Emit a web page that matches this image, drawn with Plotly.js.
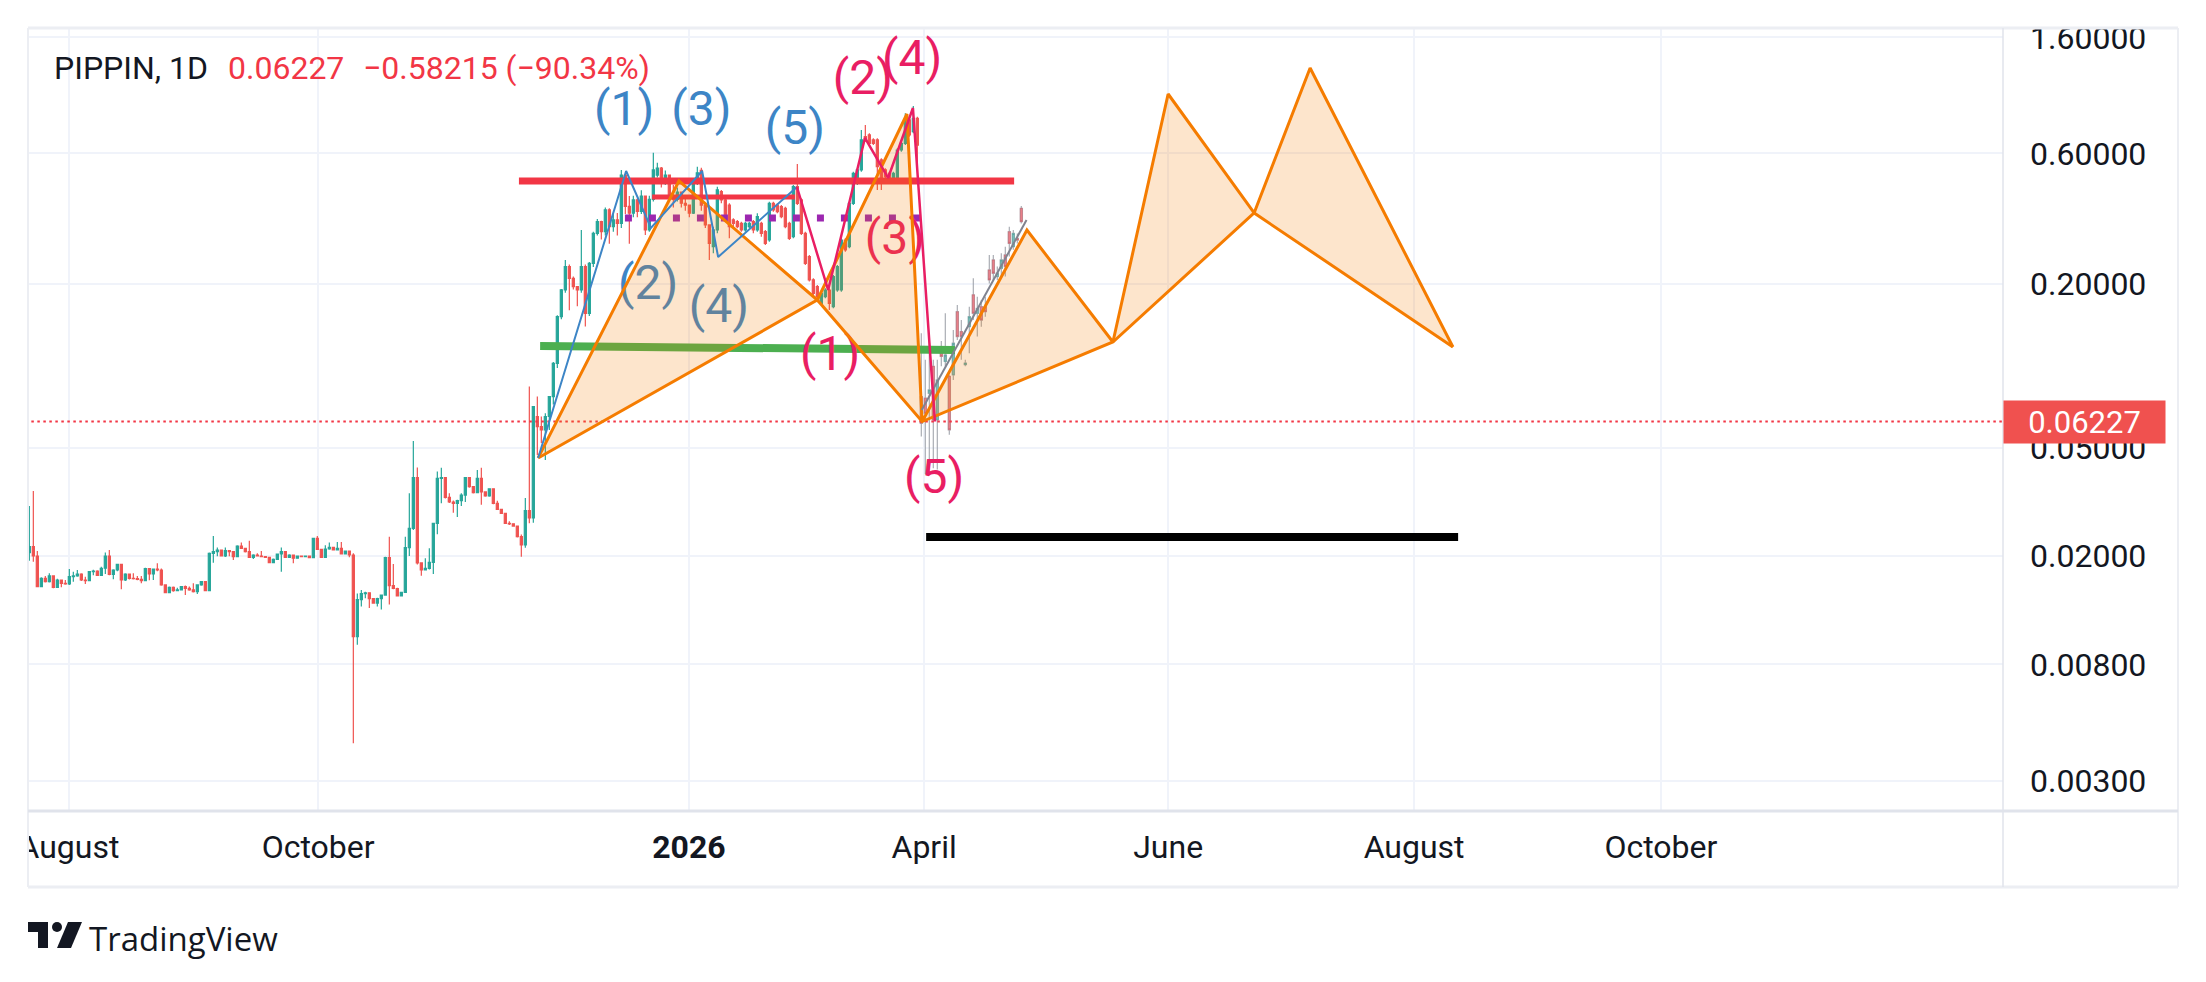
<!DOCTYPE html>
<html>
<head>
<meta charset="utf-8">
<script src="https://cdn.plot.ly/plotly-3.0.1.min.js"></script>
<style>
html,body{margin:0;padding:0;background:#ffffff;}
#chart{width:2206px;height:982px;}
</style>
</head>
<body>
<div id="chart"></div>
<script>
// ---------- DATA (daily candles, PIPPIN, 1D) ----------
const candleOpen = [
0.02058,0.02164,0.02000,0.01544,0.01656,0.01610,0.01690,0.01535,0.01633,0.01588,
0.01579,0.01680,0.01690,0.01718,0.01633,0.01624,0.01752,0.01762,0.01699,0.01803,
0.02000,0.01713,0.01777,0.01864,0.01633,0.01718,0.01656,0.01651,0.01642,0.01624,
0.01797,0.01718,0.01792,0.01777,0.01566,0.01467,0.01535,0.01492,0.01501,0.01544,
0.01522,0.01501,0.01480,0.01566,0.01610,0.01492,0.02046,0.02075,0.02104,0.02000,
0.02092,0.02075,0.01989,0.02176,0.02134,0.02075,0.01978,0.02017,0.02000,0.01989,
0.01978,0.01891,0.01945,0.02034,0.02075,0.01978,0.02017,0.01962,0.02000,0.01989,
0.02000,0.01972,0.02323,0.02116,0.01978,0.02122,0.02151,0.02104,0.02134,0.02034,
0.02086,0.02017,0.01012,0.01384,0.01456,0.01466,0.01395,0.01344,0.01395,0.01437,
0.01974,0.01556,0.01520,0.01427,0.01470,0.02146,0.02527,0.03881,0.01887,0.01777,
0.01801,0.01895,0.02636,0.03855,0.03877,0.03283,0.03157,0.03121,0.03193,0.03348,
0.03877,0.03593,0.03414,0.03855,0.03438,0.03321,0.03528,0.03121,0.02967,0.02869,
0.02636,0.02624,0.02576,0.02355,0.02195,0.02934,0.02760,0.06500,0.05970,0.05810,
0.06500,0.07690,0.10180,0.15120,0.18940,0.23070,0.20880,0.19480,0.18940,0.23070,
0.15520,0.23720,0.30570,0.33730,0.31000,0.37300,0.32340,0.34210,0.33260,0.49990,
0.38350,0.36260,0.40510,0.36770,0.41850,0.31450,0.40690,0.50000,0.53000,0.46630,
0.49990,0.41850,0.40690,0.43250,0.39410,0.38800,0.36260,0.46630,0.52000,0.38800,
0.32810,0.27310,0.31440,0.43460,0.40510,0.38830,0.34210,0.33720,0.33250,0.31440,
0.32330,0.33720,0.31440,0.33250,0.31000,0.28890,0.39390,0.38830,0.38280,0.37750,
0.33250,0.29710,0.45330,0.40510,0.30560,0.25100,0.20610,0.19470,0.16920,0.17900,
0.18930,0.16450,0.18930,0.18930,0.28890,0.27310,0.39390,0.46640,0.52210,0.69180,
0.70160,0.67260,0.67260,0.56810,0.52210,0.50750,0.47970,0.47970,0.61800,0.65400,
0.79640,0.72160,0.80760
];
const candleHigh = [
0.03051,0.03464,0.02086,0.01672,0.01690,0.01728,0.01700,0.01651,0.01640,0.01633,
0.01792,0.01752,0.01777,0.01728,0.01680,0.01762,0.01782,0.01772,0.01828,0.02058,
0.02104,0.01790,0.01870,0.01870,0.01730,0.01720,0.01728,0.01690,0.01690,0.01810,
0.01800,0.01800,0.01880,0.01800,0.01570,0.01545,0.01544,0.01530,0.01550,0.01560,
0.01544,0.01588,0.01575,0.01620,0.01615,0.02060,0.02366,0.02150,0.02110,0.02150,
0.02100,0.02080,0.02190,0.02244,0.02140,0.02276,0.02030,0.02046,0.02086,0.02000,
0.01985,0.01960,0.02040,0.02151,0.02080,0.02030,0.02020,0.02010,0.02005,0.02010,
0.02005,0.02330,0.02368,0.02120,0.02190,0.02244,0.02160,0.02251,0.02251,0.02095,
0.02090,0.02046,0.01456,0.01500,0.01480,0.01470,0.01400,0.01405,0.01445,0.01989,
0.02355,0.01871,0.01530,0.01480,0.02355,0.03397,0.05284,0.04224,0.01895,0.01963,
0.02134,0.02650,0.04088,0.04212,0.03900,0.03397,0.03200,0.03220,0.03397,0.03900,
0.03881,0.03600,0.04136,0.04212,0.03450,0.03540,0.03540,0.03193,0.02980,0.02883,
0.02680,0.02640,0.02590,0.02400,0.03267,0.08370,0.07100,0.07690,0.06500,0.06680,
0.07700,0.10300,0.15300,0.19100,0.24400,0.23500,0.21200,0.19600,0.31450,0.23500,
0.24000,0.31000,0.34500,0.34000,0.38000,0.37800,0.36000,0.36260,0.52230,0.50500,
0.41850,0.42000,0.41000,0.44000,0.42000,0.42000,0.60400,0.55500,0.53500,0.52000,
0.50000,0.46000,0.45000,0.43500,0.41000,0.39000,0.48000,0.53690,0.53200,0.39000,
0.33000,0.32330,0.45330,0.44080,0.41670,0.39390,0.34690,0.34210,0.33720,0.33720,
0.33720,0.34210,0.36190,0.33720,0.31440,0.39940,0.39940,0.39390,0.38830,0.38280,
0.33720,0.45970,0.54920,0.41080,0.31000,0.25450,0.20900,0.19750,0.18670,0.19210,
0.19210,0.21500,0.23380,0.29300,0.29300,0.39940,0.51470,0.52950,0.73170,0.76330,
0.71140,0.68220,0.68220,0.57610,0.52950,0.51470,0.51470,0.62680,0.66320,0.84240,
0.80760,0.89620,0.81920
];
const candleLow = [
0.01923,0.01907,0.01535,0.01535,0.01600,0.01600,0.01522,0.01530,0.01535,0.01570,
0.01566,0.01610,0.01680,0.01620,0.01579,0.01615,0.01700,0.01690,0.01690,0.01718,
0.01700,0.01642,0.01760,0.01510,0.01620,0.01640,0.01640,0.01630,0.01590,0.01615,
0.01630,0.01633,0.01760,0.01555,0.01459,0.01462,0.01480,0.01485,0.01495,0.01439,
0.01490,0.01470,0.01450,0.01555,0.01485,0.01485,0.01891,0.01995,0.01990,0.01985,
0.01995,0.01934,0.01985,0.02120,0.02060,0.01970,0.01950,0.01990,0.01980,0.01965,
0.01880,0.01880,0.01934,0.01752,0.01970,0.01970,0.01880,0.01955,0.01980,0.01985,
0.01965,0.01965,0.02110,0.01970,0.01970,0.02110,0.02095,0.02095,0.02025,0.02025,
0.01978,0.00411,0.00944,0.01306,0.01400,0.01289,0.01335,0.01306,0.01273,0.01430,
0.01328,0.01510,0.01420,0.01420,0.01465,0.02001,0.02492,0.01860,0.01694,0.01770,
0.01785,0.01719,0.02406,0.03121,0.03250,0.03130,0.02883,0.02780,0.03050,0.03157,
0.03560,0.03390,0.03400,0.03085,0.03300,0.03302,0.03100,0.02950,0.02850,0.02620,
0.02600,0.02560,0.02340,0.01989,0.02146,0.02636,0.02650,0.04700,0.05200,0.04500,
0.05800,0.07200,0.09800,0.14800,0.18500,0.15960,0.19000,0.16500,0.18500,0.13900,
0.15200,0.23000,0.30000,0.29000,0.30000,0.28000,0.31000,0.30000,0.32000,0.36000,
0.28000,0.35000,0.35000,0.36000,0.30150,0.31000,0.40000,0.49000,0.45000,0.46000,
0.40000,0.38000,0.40000,0.38000,0.37000,0.35000,0.36000,0.46000,0.37000,0.32000,
0.24410,0.25810,0.30560,0.39390,0.33720,0.29300,0.32330,0.31890,0.31000,0.31000,
0.31890,0.30560,0.31000,0.29710,0.27700,0.28490,0.36700,0.36190,0.34690,0.31890,
0.28890,0.29300,0.38830,0.30140,0.23380,0.20320,0.18160,0.17650,0.16690,0.17650,
0.16000,0.16220,0.18670,0.18670,0.26170,0.26930,0.38830,0.45970,0.51470,0.66320,
0.64490,0.64490,0.44080,0.44080,0.48640,0.47300,0.47300,0.47300,0.60930,0.64490,
0.69180,0.71140,0.53700
];
const candleClose = [
0.02164,0.02000,0.01544,0.01656,0.01610,0.01690,0.01535,0.01633,0.01588,0.01579,
0.01680,0.01690,0.01718,0.01633,0.01624,0.01752,0.01762,0.01699,0.01803,0.02000,
0.01713,0.01777,0.01864,0.01633,0.01718,0.01656,0.01651,0.01642,0.01624,0.01797,
0.01718,0.01792,0.01777,0.01566,0.01467,0.01535,0.01492,0.01501,0.01544,0.01522,
0.01501,0.01480,0.01566,0.01610,0.01492,0.02046,0.02075,0.02104,0.02000,0.02092,
0.02075,0.01989,0.02176,0.02134,0.02075,0.01978,0.02017,0.02000,0.01989,0.01978,
0.01891,0.01945,0.02034,0.02075,0.01978,0.02017,0.01962,0.02000,0.01989,0.02000,
0.01972,0.02323,0.02116,0.01978,0.02122,0.02151,0.02104,0.02134,0.02034,0.02086,
0.02017,0.01012,0.01384,0.01456,0.01466,0.01395,0.01344,0.01395,0.01437,0.01974,
0.01556,0.01520,0.01427,0.01470,0.02146,0.02527,0.03881,0.01887,0.01777,0.01801,
0.01895,0.02636,0.03855,0.03877,0.03283,0.03157,0.03121,0.03193,0.03348,0.03877,
0.03593,0.03414,0.03855,0.03438,0.03321,0.03528,0.03121,0.02967,0.02869,0.02636,
0.02624,0.02576,0.02355,0.02195,0.02934,0.02760,0.07070,0.05970,0.05810,0.06500,
0.07690,0.10180,0.15120,0.18940,0.23070,0.20880,0.19480,0.18940,0.23070,0.15520,
0.23720,0.30570,0.33730,0.31000,0.37300,0.32340,0.34210,0.33260,0.49990,0.38350,
0.36260,0.40510,0.36770,0.41850,0.31450,0.40690,0.52230,0.53000,0.46630,0.49990,
0.41850,0.40690,0.43250,0.39410,0.38800,0.36260,0.46630,0.50990,0.38800,0.32810,
0.28090,0.31440,0.44080,0.40510,0.34210,0.32330,0.33250,0.32330,0.31440,0.33250,
0.33250,0.31440,0.35180,0.30560,0.28090,0.39390,0.37220,0.36700,0.35180,0.32330,
0.29300,0.45330,0.39390,0.30560,0.23720,0.20610,0.18410,0.17900,0.18410,0.18930,
0.16920,0.21190,0.23050,0.28890,0.26550,0.39390,0.50750,0.52210,0.67260,0.67260,
0.65400,0.65400,0.53700,0.47970,0.49330,0.47970,0.50750,0.61800,0.65400,0.79640,
0.70160,0.80760,0.64440
];

// projected ("ghost feed") candles drawn after the last bar
const ghostOpen  = [0.0769,0.0759,0.0791,0.0993,0.0632,0.1157,0.1035,0.0913,0.0925,0.1576,0.1332,0.1007,0.1389,
                    0.1818,0.1555,0.1644,0.1644,0.2243,0.2441,0.2121,0.2275,0.2546,0.3098,0.2731,0.2928,0.3775];
const ghostHigh  = [0.1313,0.1050,0.1277,0.1050,0.1050,0.1230,0.1555,0.0925,0.1351,0.1668,0.1468,0.1050,0.1644,
                    0.2090,0.1790,0.1740,0.1790,0.2546,0.2546,0.2307,0.2583,0.2731,0.3234,0.3142,0.3053,0.3850];
const ghostLow   = [0.0549,0.0400,0.0410,0.0420,0.0415,0.0993,0.0993,0.0557,0.0885,0.1240,0.1050,0.0993,0.1110,
                    0.1468,0.1277,0.1389,0.1511,0.2000,0.2061,0.2061,0.2121,0.2121,0.2511,0.2660,0.2807,0.3320];
const ghostClose = [0.0614,0.0668,0.0814,0.0632,0.0885,0.1080,0.1093,0.0581,0.1207,0.1277,0.1277,0.1021,0.1511,
                    0.1555,0.1621,0.1468,0.1576,0.2061,0.2181,0.2181,0.2441,0.2307,0.2807,0.3053,0.2888,0.3372];

const lastClose = 0.06227;
const legendSymbol = 'PIPPIN, 1D';
const legendPrice = '0.06227';
const legendChange = '\u22120.58215 (\u221290.34%)';

// axis ticks (x in bar units)
const xTickBars   = [9.9, 72.2, 164.9, 223.7, 284.7, 346.2, 407.9];
const xTickLabels = ['August', 'October', '<b>2026</b>', 'April', 'June', 'August', 'October'];
const yTickValues = [0.003, 0.008, 0.02, 0.05, 0.2, 0.6, 1.6];
const yTickLabels = ['0.00300', '0.00800', '0.02000', '0.05000', '0.20000', '0.60000', '1.60000'];

// horizontal levels drawn on the chart
const resistanceBars = [122.4, 246.2];   const resistancePrice = 0.4756;
const innerResBars   = [155.7, 191.4];   const innerResPrice   = 0.415;
const midLevelBars   = [148.9, 222.7];   const midLevelPrice   = 0.3478;
const supportBars    = [127.7, 231.4];   const supportPrices   = [0.1179, 0.1141];
const targetBars     = [224.2, 357.2];   const targetPrice     = 0.0235;

// harmonic / zig-zag pattern (orange)
const patternBars   = [127.2, 162.4, 197.0, 219.4, 223.2, 249.4, 270.9, 284.7, 306.2, 320.2, 355.9];
const patternPrices = [0.0458, 0.4756, 0.174, 0.8377, 0.0623, 0.3142, 0.122, 0.9918, 0.3629, 1.2357, 0.117];

// Elliott waves
const blueWaveBars   = [127.2, 149.2, 155.4, 168.2, 172.2, 191.9];
const blueWavePrices = [0.0458, 0.5175, 0.3197, 0.5175, 0.2502, 0.452];
const redWaveBars    = [191.9, 199.7, 208.9, 214.7, 220.9, 226.4];
const redWavePrices  = [0.452, 0.1893, 0.684, 0.4878, 0.881, 0.0623];
const reboundBars    = [223.1, 249.3];
const reboundPrices  = [0.0687, 0.342];

const blueLabels = ['(1)', '(2)', '(3)', '(4)', '(5)'];
const blueLabelBars = [148.7, 154.7, 168.0, 172.4, 191.4];
const blueLabelPrices = [0.8446, 0.1942, 0.8446, 0.1599, 0.719];
const redLabels = ['(1)', '(2)', '(3)', '(4)', '(5)'];
const redLabelBars = [200.2, 208.4, 216.4, 220.7, 226.2];
const redLabelPrices = [0.1066, 1.0977, 0.284, 1.2998, 0.0377];

// ---------- BUILD ----------
const bars = candleClose.map((_, i) => i);
const ghostBars = ghostClose.map((_, i) => candleClose.length + i);
const ghostBodyHigh = ghostOpen.map((o, i) => Math.max(o, ghostClose[i]));
const ghostBodyLow  = ghostOpen.map((o, i) => Math.min(o, ghostClose[i]));

const UP = '#26a69a', DOWN = '#ef5350';
const ORANGE = '#f57c00';
const FONT = 'Roboto, "Noto Sans", sans-serif';

const traces = [];

traces.push({
  type: 'candlestick', x: bars, open: candleOpen, high: candleHigh, low: candleLow, close: candleClose,
  increasing: {line: {color: UP, width: 1.2}, fillcolor: UP},
  decreasing: {line: {color: DOWN, width: 1.2}, fillcolor: DOWN},
  whiskerwidth: 0, hoverinfo: 'skip', showlegend: false
});

function line(x, y, color, width, dash) {
  return {type: 'scatter', mode: 'lines', x: x, y: y, line: {color: color, width: width, dash: dash || 'solid'},
          hoverinfo: 'skip', showlegend: false};
}
function labels(x, y, text, color) {
  return {type: 'scatter', mode: 'text', x: x, y: y, text: text, textposition: 'middle center',
          textfont: {family: FONT, size: 48, color: color}, hoverinfo: 'skip', showlegend: false, cliponaxis: false};
}

// price line
traces.push(line([-1, 500], [lastClose, lastClose], '#f23645', 2, '2.5px,3.5px'));
// levels
traces.push(line(innerResBars, [innerResPrice, innerResPrice], '#f23645', 5));
traces.push(line(resistanceBars, [resistancePrice, resistancePrice], '#f23645', 7));
traces.push(line(midLevelBars, [midLevelPrice, midLevelPrice], '#9c27b0', 7, '7px,17px'));
traces.push(line(supportBars, supportPrices, '#4caf50', 8));
traces.push(line(targetBars, [targetPrice, targetPrice], '#000000', 8));

// wave labels sit under the pattern fill
traces.push(labels(blueLabelBars, blueLabelPrices, blueLabels, '#3d85c6'));
traces.push(labels(redLabelBars, redLabelPrices, redLabels, '#e91e63'));

// pattern fills
for (let i = 0; i + 2 < patternBars.length; i += 2) {
  traces.push({
    type: 'scatter', mode: 'lines', fill: 'toself', fillcolor: 'rgba(245,124,0,0.2)',
    x: [patternBars[i], patternBars[i + 1], patternBars[i + 2], patternBars[i]],
    y: [patternPrices[i], patternPrices[i + 1], patternPrices[i + 2], patternPrices[i]],
    line: {width: 0}, hoverinfo: 'skip', showlegend: false
  });
}

// ghost wicks (gray) + bodies (faded)
traces.push({
  type: 'candlestick', x: ghostBars, open: ghostOpen, high: ghostHigh, low: ghostLow, close: ghostClose,
  increasing: {line: {color: 'rgba(150,153,162,0.75)', width: 1.3}, fillcolor: 'rgba(38,166,154,0.5)'},
  decreasing: {line: {color: 'rgba(150,153,162,0.75)', width: 1.3}, fillcolor: 'rgba(242,54,69,0.48)'},
  whiskerwidth: 0, hoverinfo: 'skip', showlegend: false
});
traces.push({
  type: 'candlestick', x: ghostBars, open: ghostOpen, high: ghostBodyHigh, low: ghostBodyLow, close: ghostClose,
  increasing: {line: {color: 'rgba(38,166,154,0.35)', width: 0.8}, fillcolor: 'rgba(38,166,154,0.25)'},
  decreasing: {line: {color: 'rgba(242,54,69,0.35)', width: 0.8}, fillcolor: 'rgba(242,54,69,0.25)'},
  whiskerwidth: 0, hoverinfo: 'skip', showlegend: false
});

traces.push(line(patternBars, patternPrices, ORANGE, 3));
traces.push(line(patternBars.filter((_, i) => i % 2 === 0), patternPrices.filter((_, i) => i % 2 === 0), ORANGE, 3));

// wave lines
traces.push(line(blueWaveBars, blueWavePrices, '#3d85c6', 2));
traces.push(line(reboundBars, reboundPrices, '#80838f', 2));
traces.push(line(redWaveBars, redWavePrices, '#e91e63', 2.5));

// ---------- LAYOUT ----------
const PX = x => (x - 28) / 1975;
const PY = y => (811 - y) / 783;
const BORDER = '#eceef3';

const shapes = [
  {type: 'line', xref: 'paper', yref: 'paper', x0: 0, x1: PX(2178), y0: 1, y1: 1, line: {color: BORDER, width: 3}},
  {type: 'line', xref: 'paper', yref: 'paper', x0: 0, x1: 0, y0: PY(887), y1: 1, line: {color: BORDER, width: 2}},
  {type: 'line', xref: 'paper', yref: 'paper', x0: PX(2178), x1: PX(2178), y0: PY(887), y1: 1, line: {color: BORDER, width: 2}},
  {type: 'line', xref: 'paper', yref: 'paper', x0: 0, x1: PX(2178), y0: PY(887), y1: PY(887), line: {color: BORDER, width: 3}},
  {type: 'line', xref: 'paper', yref: 'paper', x0: 1, x1: 1, y0: PY(887), y1: 1, line: {color: '#e0e3eb', width: 1.5}},
  {type: 'line', xref: 'paper', yref: 'paper', x0: 0, x1: PX(2178), y0: 0, y1: 0, line: {color: '#e0e3eb', width: 3}},
  // clip the first month label at the pane edge
  {type: 'rect', xref: 'paper', yref: 'paper', layer: 'above', x0: PX(0), x1: PX(27), y0: PY(884), y1: PY(814),
   fillcolor: '#ffffff', line: {width: 0}},
  // TradingView logo
  {type: 'rect', xref: 'paper', yref: 'paper', layer: 'above', x0: PX(28), x1: PX(48), y0: PY(932), y1: PY(922),
   fillcolor: '#131722', line: {width: 0}},
  {type: 'rect', xref: 'paper', yref: 'paper', layer: 'above', x0: PX(38), x1: PX(48), y0: PY(948), y1: PY(922),
   fillcolor: '#131722', line: {width: 0}},
  {type: 'circle', xref: 'paper', yref: 'paper', layer: 'above', x0: PX(52), x1: PX(62), y0: PY(932), y1: PY(922),
   fillcolor: '#131722', line: {width: 0}},
  {type: 'path', xref: 'paper', yref: 'paper', layer: 'above',
   path: `M${PX(68)},${PY(922)} L${PX(82)},${PY(922)} L${PX(71)},${PY(948)} L${PX(57)},${PY(948)} Z`,
   fillcolor: '#131722', line: {width: 0}}
];

const annotations = [
  {xref: 'paper', yref: 'paper', x: PX(52), y: PY(68), xanchor: 'left', yanchor: 'middle', showarrow: false,
   text: legendSymbol, font: {family: FONT, size: 32, color: '#131722'}},
  {xref: 'paper', yref: 'paper', x: PX(226), y: PY(68), xanchor: 'left', yanchor: 'middle', showarrow: false,
   text: legendPrice, font: {family: FONT, size: 32, color: '#f23645'}},
  {xref: 'paper', yref: 'paper', x: PX(361), y: PY(68), xanchor: 'left', yanchor: 'middle', showarrow: false,
   text: legendChange, font: {family: FONT, size: 32, color: '#f23645'}},
  {xref: 'paper', yref: 'y', x: 1, y: Math.log10(lastClose), xanchor: 'left', yanchor: 'middle', showarrow: false,
   text: legendPrice, font: {family: FONT, size: 31, color: '#ffffff'}, bgcolor: '#f0514f',
   width: 157, height: 38, borderpad: 2, align: 'center'},
  {xref: 'paper', yref: 'paper', x: PX(87), y: PY(939), xanchor: 'left', yanchor: 'middle', showarrow: false,
   text: 'TradingView', font: {family: '"Open Sans", sans-serif', size: 33, color: '#131722', weight: 500}}
];

const layout = {
  width: 2206, height: 982,
  margin: {l: 28, r: 203, t: 28, b: 171, pad: 0},
  paper_bgcolor: '#ffffff', plot_bgcolor: '#ffffff',
  font: {family: FONT, size: 32, color: '#131722'},
  showlegend: false, hovermode: false, boxgap: 0.25,
  xaxis: {
    type: 'linear', range: [-0.333, 493.42], autorange: false,
    tickmode: 'array', tickvals: xTickBars, ticktext: xTickLabels,
    showgrid: true, gridcolor: '#f0f3fa', gridwidth: 2, zeroline: false, showline: false,
    ticks: '', ticklabelstandoff: 14, tickfont: {family: FONT, size: 32, color: '#131722'},
    rangeslider: {visible: false}, fixedrange: true
  },
  yaxis: {
    type: 'log', side: 'right', range: [-2.63475, 0.23864], autorange: false,
    tickmode: 'array', tickvals: yTickValues, ticktext: yTickLabels,
    showgrid: true, gridcolor: '#f0f3fa', gridwidth: 2, zeroline: false, showline: false,
    ticks: '', ticklabelstandoff: 26, tickfont: {family: FONT, size: 32, color: '#131722'},
    fixedrange: true
  },
  shapes: shapes,
  annotations: annotations
};

Plotly.newPlot('chart', traces, layout, {displayModeBar: false, staticPlot: true, responsive: false});
</script>
</body>
</html>
